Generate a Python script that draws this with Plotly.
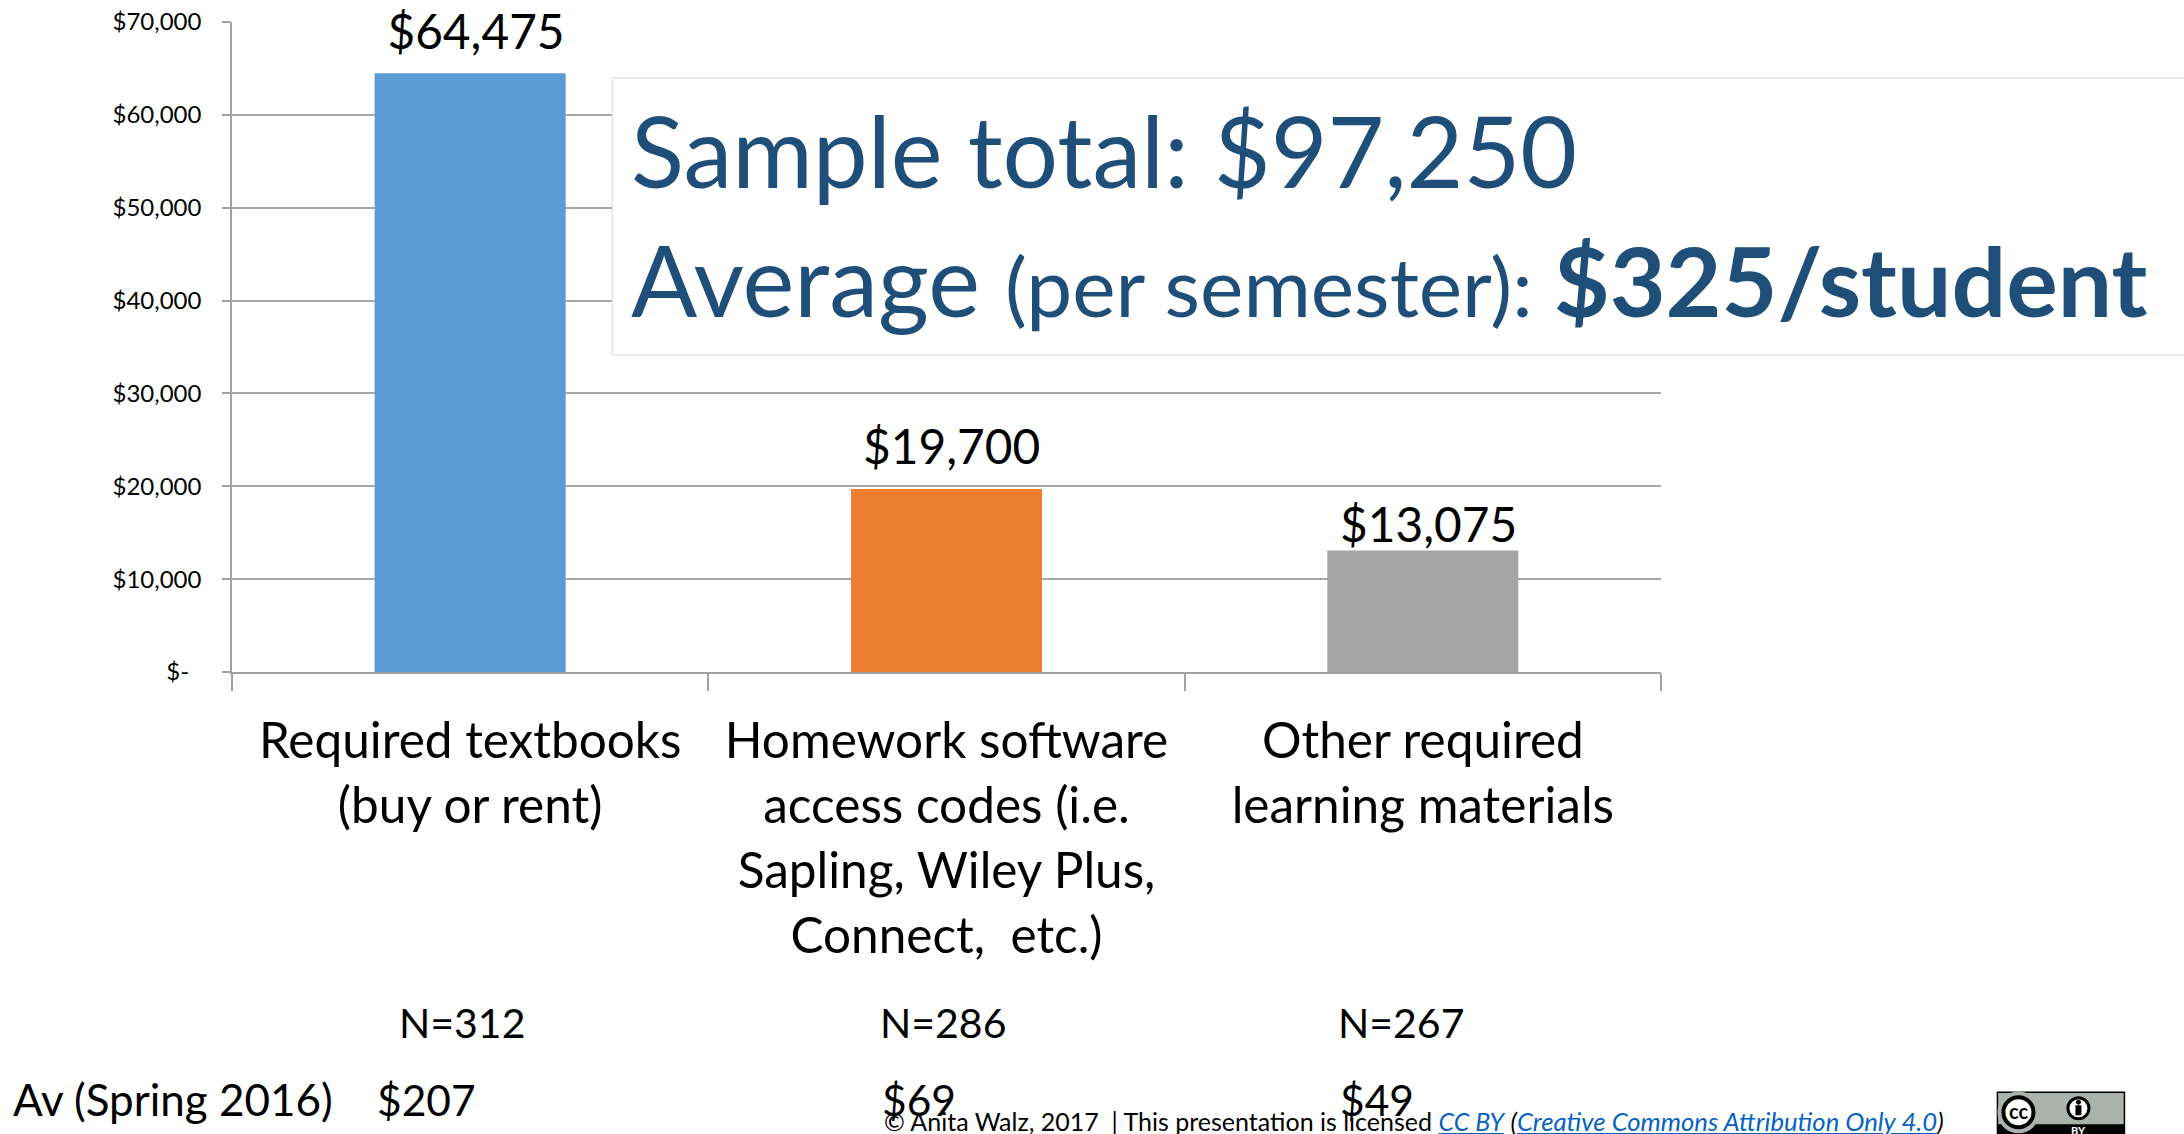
import plotly.graph_objects as go

categories = ["Required textbooks<br>(buy or rent)",
              "Homework software<br>access codes (i.e.<br>Sapling, Wiley Plus,<br>Connect,  etc.)",
              "Other required<br>learning materials"]
values = [64475, 19700, 13075]
bar_colors = ["#5B9BD5", "#ED7D31", "#A5A5A5"]
y_ticks = [0, 10000, 20000, 30000, 40000, 50000, 60000, 70000]
y_tick_labels = ["$-\u00a0\u00a0", "$10,000", "$20,000", "$30,000", "$40,000", "$50,000", "$60,000", "$70,000"]
n_labels = ["N=312", "N=286", "N=267"]
av_labels = ["$207", "$69", "$49"]

W, H = 2184, 1134
L, R, T, B = 231.7, 1660.6, 21.7, 672.3
px = lambda v: (v - L) / (R - L)
py = lambda v: (B - v) / (B - T)
FONT = "Lato"
BLUE = "#1F4E79"

def cat_label(s):
    return "<br>".join(f'<span style="font-size:49.5px">{p}</span>' for p in s.split("<br>"))

cat_text = [cat_label(c) for c in categories]
fig = go.Figure(go.Bar(x=cat_text, y=values, marker=dict(color=bar_colors, line_width=0), width=0.401))

anns = []
def text(x, y, t, size=40, color="black", anchor="left", yanchor="bottom"):
    anns.append(dict(xref="paper", yref="paper", x=px(x), y=py(y), text=t, showarrow=False,
                     xanchor=anchor, yanchor=yanchor, align=anchor,
                     font=dict(family=FONT, size=size, color=color), borderpad=0))

# Data labels
shifts = [(6, 43), (5, 44), (6, 27)]
for i, v in enumerate(values):
    anns.append(dict(xref="x", yref="y", x=i, y=v, text=f"${v:,}", showarrow=False, xanchor="center",
                     yanchor="middle", xshift=shifts[i][0], yshift=shifts[i][1],
                     font=dict(family=FONT, size=47.8, color="black"),
                     bgcolor="white" if i == 0 else None, borderpad=0,
                     width=204 if i == 0 else None))

def circ(cx, cy, r, fill, lc=None, lw=0):
    return dict(type="circle", xref="paper", yref="paper", x0=px(cx - r), x1=px(cx + r), y0=py(cy + r), y1=py(cy - r),
                fillcolor=fill, line=dict(color=lc or fill, width=lw), layer="above")

def rect(x0, y0, x1, y1, fill, lc=None, lw=0):
    return dict(type="rect", xref="paper", yref="paper", x0=px(x0), x1=px(x1), y0=py(y1), y1=py(y0),
                fillcolor=fill, line=dict(color=lc or fill, width=lw), layer="above")

shapes = [
    rect(612, 78, 2190, 355, "white", "#E4E4E4", 1.5),
    # CC badge
    rect(1997, 1093, 2124, 1140, "#AAB2AB", "black", 1.5),
    rect(1997, 1125, 2124, 1140, "black"),
    circ(2018, 1113, 21, "#AAB2AB"),
    circ(2018, 1113, 15, "white", "black", 4),
    circ(2078, 1109, 10.5, "white", "black", 3),
    circ(2078, 1103, 2.5, "black"),
    rect(2075, 1106, 2081, 1116, "black"),
]

# Info box text
text(630, 210, "Sample total: $97,250", size=98, color=BLUE)
text(630, 339, 'Average <span style="font-size:82px">(per semester): </span><b><span style="font-size:96.5px">$325/student</span></b>', size=98, color=BLUE)

# Rows under the chart
for lab, x in zip(n_labels, [398, 879, 1337]):
    text(x, 1049, lab, size=41)
for lab, x in zip(av_labels, [376, 881, 1339]):
    text(x, 1127, lab, size=42.5)
text(12, 1127, "Av (Spring 2016)", size=44)

# Footer
link = "#0563C1"
text(883, 1138,
     '© Anita Walz, 2017  | This presentation is licensed '
     f'<span style="color:{link}"><i><u>CC BY</u></i></span> <i>(</i>'
     f'<span style="color:{link};font-size:25.7px"><i><u>Creative Commons Attribution Only 4.0</u></i></span><i>)</i>', size=25)

# Badge labels
text(2018, 1112, "<b>cc</b>", size=20, anchor="center", yanchor="middle")
text(2078, 1139, "<b>BY</b>", size=11, color="white", anchor="center")

fig.update_layout(
    width=W, height=H, autosize=False, showlegend=False,
    paper_bgcolor="white", plot_bgcolor="white",
    margin=dict(l=L, r=W - R, t=T, b=H - B, pad=0),
    annotations=anns, shapes=shapes,
    font=dict(family=FONT, color="black"),
    xaxis=dict(type="category", range=[-0.5, 2.5], tickson="boundaries", ticks="outside", automargin=False,
               ticklen=17, tickwidth=1.5, tickcolor="#A0A0A0", showline=True, linecolor="#A0A0A0", linewidth=1.5,
               showgrid=False, tickangle=0, tickfont=dict(family=FONT, size=50, color="black"), zeroline=False,
               ticklabelstandoff=24),
    yaxis=dict(range=[0, 70000], tickmode="array", tickvals=y_ticks, ticktext=y_tick_labels, ticks="outside",
               automargin=False,
               ticklen=8, tickwidth=1.5, tickcolor="#A0A0A0", showline=True, linecolor="#A0A0A0", linewidth=1.5,
               showgrid=True, gridcolor="#A6A6A6", gridwidth=1.5, zeroline=False, ticklabelstandoff=16,
               tickfont=dict(family=FONT, size=24, color="black")),
)

fig.write_html("out.html", config=dict(displayModeBar=False),
               post_script="document.body.style.margin='0';document.body.style.overflow='hidden';")
